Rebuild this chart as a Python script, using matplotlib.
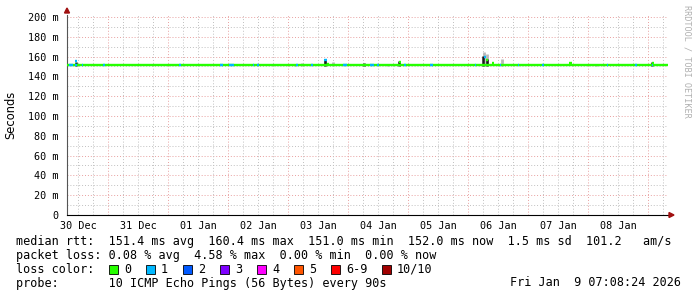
import matplotlib
matplotlib.use("Agg")
import matplotlib.pyplot as plt
from matplotlib.patches import Rectangle
import numpy as np

# days counted from 30 Dec 00:00
day_labels = ["30 Dec", "31 Dec", "01 Jan", "02 Jan", "03 Jan",
              "04 Jan", "05 Jan", "06 Jan", "07 Jan", "08 Jan"]
x_start, x_end = 0.317, 10.334

# median rtt (ms), baseline pieces
base_start = [0.317, 7.58]
base_end = [7.58, 10.334]
base_ms = [151.0, 152.0]

# short bumps of the median: start, end, ms, loss level
bump_start = [0.45, 4.60, 4.65, 5.85, 7.27, 7.30, 7.40, 8.68, 10.07]
bump_end = [0.48, 4.65, 4.68, 5.88, 7.30, 7.33, 7.44, 8.73, 10.10]
bump_ms = [156, 157, 153, 155, 160, 157, 154, 154, 154]
bump_loss = [1, 1, 0, 0, 1, 0, 0, 0, 0]

# spots on the baseline with 1/10 loss
loss1_start = [0.35, 0.45, 0.56, 0.92, 2.18, 2.87, 3.02, 3.41, 3.49, 4.14, 4.39,
               4.92, 5.37, 5.49, 5.94, 6.37, 7.11, 7.53, 7.83, 8.24, 9.31, 9.78, 10.06]
loss1_end = [0.42, 0.48, 0.58, 0.95, 2.22, 2.92, 3.10, 3.43, 3.51, 4.16, 4.41,
             4.98, 5.43, 5.51, 5.96, 6.42, 7.13, 7.55, 7.85, 8.26, 9.33, 9.82, 10.08]

# smoke (spread of pings)
smoke_day = [4.12, 4.23, 4.61, 4.75, 5.67, 7.26, 7.32, 7.57, 9.13]
smoke_top = [153, 154, 158, 155, 153, 165, 163, 158, 153]
dark_day = [0.465, 4.62, 5.27, 5.85, 7.25, 7.31, 10.07]
dark_top = [155, 157, 154, 156, 161, 158, 155]

loss_colors = ["#26ff00", "#00b8ff", "#0059ff", "#7e00ff", "#ff00ff",
               "#ff5500", "#ff0000", "#a10000"]
loss_names = ["0", "1", "2", "3", "4", "5", "6-9", "10/10"]

W, H = 697, 297
fig = plt.figure(figsize=(W / 100, H / 100), dpi=100)
fig.patch.set_facecolor("white")


def fx(x):
    return x / W


def fy(y):
    return 1 - y / H


ax = fig.add_axes([fx(67), fy(215), fx(601), 200 / H])
ax.set_xlim(x_start, x_end)
ax.set_ylim(0, 202.0)
for s in ["top", "right"]:
    ax.spines[s].set_visible(False)
ax.spines["left"].set_color("#555555")
ax.spines["bottom"].set_color("black")
ax.spines["left"].set_linewidth(0.8)
ax.spines["bottom"].set_linewidth(0.8)

# grid
for v in np.arange(10, 201, 20):
    ax.axhline(v, color="#c0c0c0", lw=0.7, ls=(0, (1, 2)), zorder=0)
for v in np.arange(20, 201, 20):
    ax.axhline(v, color="#e8a0a0", lw=0.7, ls=(0, (1, 2)), zorder=0)
for d in np.arange(0.5, 10.4, 0.25):
    if d > x_start and abs(d - round(d)) > 0.01:
        ax.axvline(d, color="#c0c0c0", lw=0.7, ls=(0, (1, 2)), zorder=0)
for d in range(1, 11):
    ax.axvline(d, color="#e8a0a0", lw=0.7, ls=(0, (1, 2)), zorder=0)

# smoke
ax.vlines(smoke_day, 150, smoke_top, color="#b8b8b8", lw=2.0, zorder=2)
ax.vlines(dark_day, 150, dark_top, color="#1a1a1a", lw=1.8, zorder=3)

# median line
ax.hlines(base_ms, base_start, base_end, color=loss_colors[0], lw=1.7, zorder=4)
l1_ms = [base_ms[0] if s < base_end[0] else base_ms[1] for s in loss1_start]
ax.hlines(l1_ms, loss1_start, loss1_end, color=loss_colors[1], lw=1.7, zorder=5)
ax.hlines(bump_ms, bump_start, bump_end,
          color=[loss_colors[l] for l in bump_loss], lw=1.7, zorder=5)

# ticks
yt = np.arange(0, 201, 20)
ax.set_yticks(yt)
ax.set_yticklabels(["0"] + ["%d m" % v for v in yt[1:]],
                   fontfamily="DejaVu Sans Mono", fontsize=7.3)
ax.tick_params(axis="y", length=0, pad=6)
ax.set_xticks(np.arange(len(day_labels)) + 0.5)
ax.set_xticklabels(day_labels, fontfamily="DejaVu Sans Mono", fontsize=7.3)
ax.tick_params(axis="x", length=0, pad=4)

# arrows on the axes
fig.patches.append(plt.Polygon([[fx(64.5), fy(13)], [fx(69.5), fy(13)], [fx(67), fy(8)]],
                               closed=True, color="#a01010", transform=fig.transFigure))
fig.patches.append(plt.Polygon([[fx(669), fy(212.5)], [fx(669), fy(217.5)], [fx(674), fy(215)]],
                               closed=True, color="#a01010", transform=fig.transFigure))

fig.text(fx(11), fy(115), "Seconds", rotation=90, ha="center", va="center",
         fontsize=8.3, fontfamily="DejaVu Sans")
fig.text(fx(687), fy(5), "RRDTOOL / TOBI OETIKER", rotation=270, ha="center", va="top",
         fontsize=6.1, color="#b0b0b0", fontfamily="DejaVu Sans Mono")

mono = dict(fontfamily="DejaVu Sans Mono", fontsize=8.5, va="center", ha="left")
fig.text(fx(16), fy(242), "median rtt:  151.4 ms avg  160.4 ms max  151.0 ms min  "
         "152.0 ms now  1.5 ms sd  101.2   am/s", **mono)
fig.text(fx(16), fy(256), "packet loss: 0.08 % avg  4.58 % max  0.00 % min  0.00 % now", **mono)
fig.text(fx(16), fy(269.5), "loss color:", **mono)
sq_x = [109, 146, 183, 220, 257, 294, 331, 382]
for x, c, n in zip(sq_x, loss_colors, loss_names):
    fig.patches.append(Rectangle((fx(x), fy(274)), fx(9), 9 / H, facecolor=c,
                                 edgecolor="black", lw=0.6, transform=fig.transFigure))
    fig.text(fx(x + 15), fy(269.5), n, **mono)
fig.text(fx(16), fy(283), "probe:       10 ICMP Echo Pings (56 Bytes) every 90s", **mono)
fig.text(fx(681), fy(283), "Fri Jan  9 07:08:24 2026",
         fontfamily="DejaVu Sans Mono", fontsize=8.5, va="center", ha="right")

fig.savefig("out.png", dpi=100)
